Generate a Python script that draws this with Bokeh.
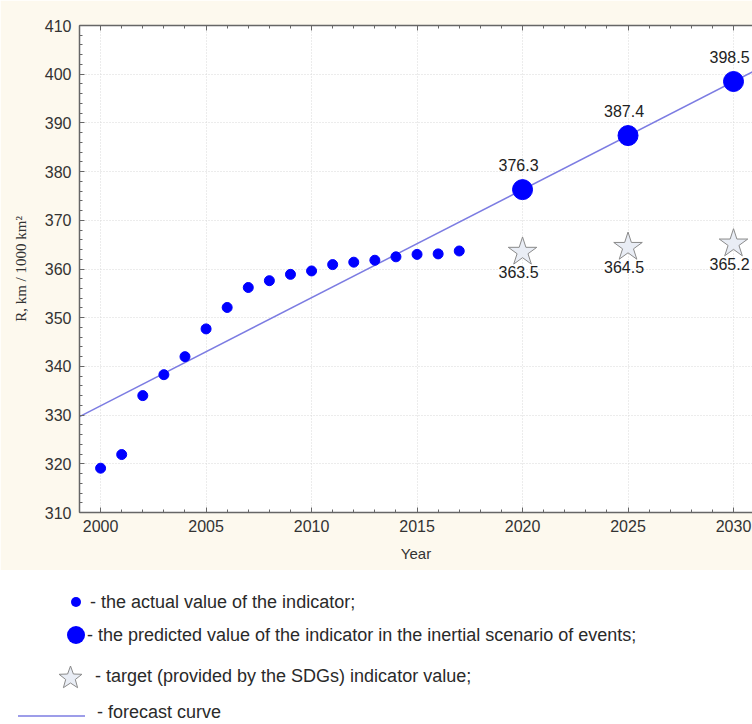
import math
from bokeh.plotting import figure
from bokeh.models import Range1d, LinearAxis, SingleIntervalTicker, CustomJSTickFormatter, Div
from bokeh.layouts import column
from bokeh.core.properties import value
from bokeh.embed import file_html
from bokeh.resources import INLINE

# ---- data ----
actual_years = list(range(2000, 2018))
actual_values = [319.1, 321.9, 334.0, 338.3, 342.0, 347.7, 352.1, 356.2, 357.6,
                 358.9, 359.6, 360.9, 361.4, 361.8, 362.5, 363.0, 363.1, 363.7]
forecast_years = [2020, 2025, 2030]
predicted_values = [376.3, 387.4, 398.5]
target_values = [363.5, 364.5, 365.2]
curve_years = [1999, 2031]
curve_values = [329.7, 400.7]

legend_texts = [
    "- the actual value of the indicator;",
    "- the predicted value of the indicator in the inertial scenario of events;",
    "- target (provided by the SDGs) indicator value;",
    "- forecast curve",
]

CREAM = "#FDF9EE"
BLUE = "#0000FF"
LINE = "#7C7CE2"
STAR_FILL = "#E9EDF5"
STAR_LINE = "#8A8A8A"
TXT = "#222222"
SANS = "Liberation Sans"

p = figure(width=752, height=570, x_range=Range1d(1999, 2030.9), y_range=Range1d(310, 410),
           output_backend="svg", toolbar_location=None,
           min_border_left=79, min_border_right=0, min_border_top=25, min_border_bottom=58,
           border_fill_color=CREAM, background_fill_color="white", outline_line_color=None,
           x_axis_label="Year", y_axis_label="R, km / 1000 km\u00b2")

bottom = p.below[0]
left = p.left[0]
bottom.ticker = SingleIntervalTicker(interval=5, num_minor_ticks=5)
left.ticker = SingleIntervalTicker(interval=10, num_minor_ticks=5)

top = LinearAxis(ticker=SingleIntervalTicker(interval=5, num_minor_ticks=5),
                 formatter=CustomJSTickFormatter(code="return ''"),
                 major_label_text_font_size="1px", major_label_standoff=0)
p.add_layout(top, "above")

for ax in [bottom, left, top]:
    ax.axis_line_color = "#666666"
    ax.axis_line_width = 1.5
    ax.major_tick_line_color = "#666666"
    ax.minor_tick_line_color = "#666666"
    ax.major_tick_in = 5
    ax.major_tick_out = 0
    ax.minor_tick_in = 3
    ax.minor_tick_out = 0

for ax in [bottom, left]:
    ax.major_label_text_font = SANS
    ax.major_label_text_font_size = "16px"
    ax.major_label_text_color = "#333333"

bottom.major_label_standoff = 7
left.major_label_standoff = 8

bottom.axis_label_text_font = SANS
bottom.axis_label_text_font_size = "15px"
bottom.axis_label_text_font_style = "normal"
bottom.axis_label_text_color = "#333333"
bottom.axis_label_standoff = 10

left.axis_label_text_font = "Liberation Serif"
left.axis_label_text_font_size = "15px"
left.axis_label_text_font_style = "normal"
left.axis_label_text_color = "#333333"
left.axis_label_standoff = 13

p.grid.grid_line_color = "#D8D8D8"
p.grid.grid_line_dash = "1 2"
p.grid.grid_line_width = 1

# forecast curve
p.line(curve_years, curve_values, line_color=LINE, line_width=1.5)
# actual values
p.scatter(actual_years, actual_values, size=10, fill_color=BLUE, line_color=BLUE)
# predicted values
p.scatter(forecast_years, predicted_values, size=20, fill_color=BLUE, line_color=BLUE)
# targets
p.scatter(forecast_years, target_values, marker="star", size=30,
          fill_color=STAR_FILL, line_color=STAR_LINE, line_width=1)

p.text(forecast_years, predicted_values, text=[f"{v:.1f}" for v in predicted_values],
       text_font=value(SANS), text_font_size="16px", text_color=TXT,
       text_align="center", text_baseline="middle", x_offset=-4, y_offset=-25)
p.text(forecast_years, target_values, text=[f"{v:.1f}" for v in target_values],
       text_font=value(SANS), text_font_size="16px", text_color=TXT,
       text_align="center", text_baseline="middle", x_offset=-4, y_offset=20)

# ---- legend panel (HTML/SVG below the chart) ----
def star_points(cx, cy, ro, ri):
    pts = []
    for k in range(10):
        r = ro if k % 2 == 0 else ri
        a = -math.pi / 2 + k * math.pi / 5
        pts.append(f"{cx + r * math.cos(a):.1f},{cy + r * math.sin(a):.1f}")
    return " ".join(pts)

tstyle = f"font-family:'{SANS}',Arial,sans-serif;font-size:18px;fill:#2a2a2a"
svg = f"""
<svg xmlns="http://www.w3.org/2000/svg" width="752" height="154" style="display:block">
  <rect x="0" y="0" width="752" height="154" fill="white"/>
  <circle cx="76" cy="32" r="5" fill="{BLUE}"/>
  <circle cx="76" cy="65" r="9" fill="{BLUE}"/>
  <polygon points="{star_points(70.5, 108, 12, 5)}" fill="{STAR_FILL}" stroke="{STAR_LINE}" stroke-width="1"/>
  <line x1="18" y1="146" x2="85" y2="146" stroke="{LINE}" stroke-width="1.5"/>
  <text x="90" y="32" dominant-baseline="central" style="{tstyle}">{legend_texts[0]}</text>
  <text x="87" y="65" dominant-baseline="central" style="{tstyle}">{legend_texts[1]}</text>
  <text x="95" y="106" dominant-baseline="central" style="{tstyle}">{legend_texts[2]}</text>
  <text x="97" y="142" dominant-baseline="central" style="{tstyle}">{legend_texts[3]}</text>
</svg>
"""
legend_div = Div(text=svg, width=752, height=154, margin=0)

layout = column(p, legend_div, spacing=0)
open("out.html", "w").write(file_html(layout, INLINE))
